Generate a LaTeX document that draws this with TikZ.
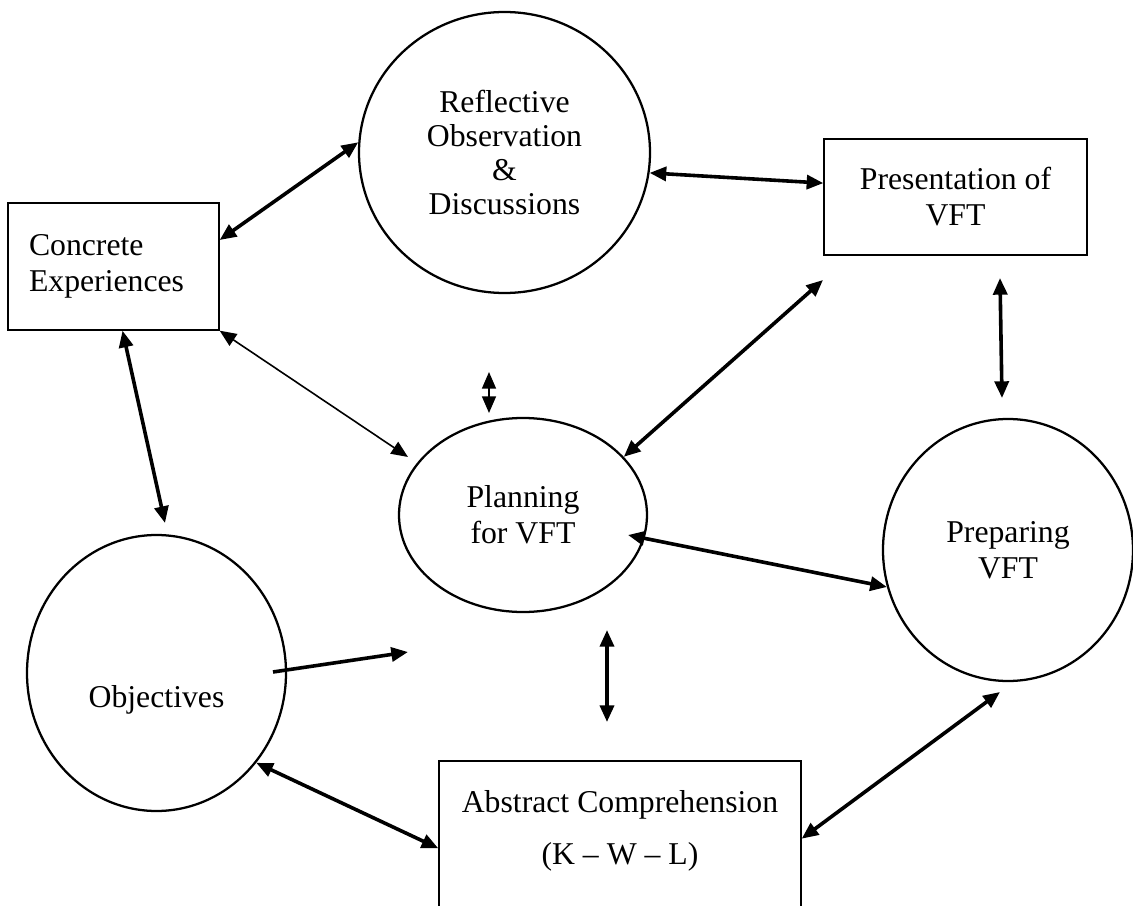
\documentclass[tikz,border=0pt]{standalone}
\usepackage{fontspec}
\setmainfont{Liberation Serif}
\usetikzlibrary{arrows.meta,shapes.geometric}

\begin{document}
\begin{tikzpicture}[x=0.75pt,y=0.75pt,yscale=-1,xscale=1,
  font=\fontsize{23.8}{27}\selectfont,
  bubble/.style={ellipse,draw,line width=1.7pt,inner sep=0pt,align=center},
  panel/.style={rectangle,draw,line width=1pt,inner sep=0pt,align=center},
  link/.style={{Triangle[length=12.5pt,width=10.5pt]}-{Triangle[length=12.5pt,width=10.5pt]},line width=2.7pt},
  thinlink/.style={link,line width=1.2pt},
  onelink/.style={-{Triangle[length=12.5pt,width=10.5pt]},line width=2.7pt}]
\useasboundingbox (0,0) rectangle (1133,906);
% shapes
\node[bubble,minimum width=218.25pt,minimum height=210.75pt,font=\fontsize{23.8}{25.5}\selectfont] (refl) at (504.5,152.5) {Reflective\\Observation\\\&\\Discussions};
\node[panel,minimum width=197.25pt,minimum height=87pt] (pres) at (955.5,197) {Presentation of\\VFT};
\node[panel,minimum width=158.25pt,minimum height=95.25pt,align=left,text width=126.75pt,inner xsep=15.75pt] (conc) at (113.5,266.5) {Concrete\\Experiences};
\node[bubble,minimum width=186pt,minimum height=145.5pt] (plan) at (523,515) {Planning\\for VFT};
\node[bubble,minimum width=187.5pt,minimum height=196.5pt] (prep) at (1008,550) {Preparing\\VFT};
\node[bubble,minimum width=194.25pt,minimum height=207pt] (obj) at (156.5,673) {};
\node (objtxt) at (156.5,700) {Objectives};
\node[panel,minimum width=271.5pt,minimum height=150pt] (abs) at (620,861) {};
\node[align=center] (abstxt) at (620,831) {Abstract Comprehension\\[12pt](K – W – L)};
% free ends
\coordinate (pl-up) at (823,280);
\coordinate (pp-top) at (1000,278);
\coordinate (pp-bot) at (1002,398);
\coordinate (cp-low) at (408,457);
\coordinate (tiny-top) at (489,372);
\coordinate (tiny-bot) at (489,413);
\coordinate (co-low) at (165,523);
\coordinate (pp-left) at (628,535);
\coordinate (ob-start) at (273,672);
\coordinate (ob-tip) at (408,652);
\coordinate (pa-top) at (607,630);
\coordinate (pa-bot) at (607,722);
\coordinate (ap-up) at (1000,692);
% arrows
\draw[link] (conc.14) -- (refl.176);
\draw[link] (refl.-8) -- (pres.174);
\draw[link] (plan.30) -- (pl-up);
\draw[link] (pp-top) -- (pp-bot);
\draw[thinlink] (conc.south east) -- (cp-low);
\draw[thinlink] (tiny-top) -- (tiny-bot);
\draw[link] (conc.-82) -- (co-low);
\draw[link] (pp-left) -- (prep.197);
\draw[onelink] (ob-start) -- (ob-tip);
\draw[link] (pa-top) -- (pa-bot);
\draw[link] (obj.-42) -- (abs.176);
\draw[link] (abs.7) -- (ap-up);
\end{tikzpicture}
\end{document}
